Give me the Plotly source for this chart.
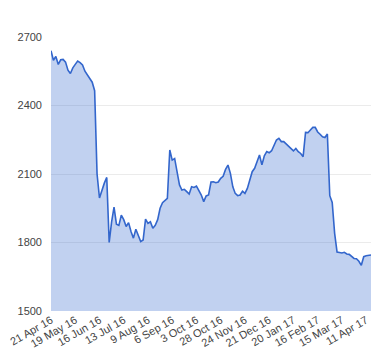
import plotly.graph_objects as go

# trading-day index (every 2nd trading day) and closing values
day_index = list(range(0, 266, 2))
price = [
    2640, 2598, 2615, 2580, 2600, 2602, 2590, 2555, 2540, 2565,
    2580, 2595, 2588, 2578, 2550, 2535, 2515, 2502, 2465, 2100,
    1995, 2030, 2060, 2085, 1800, 1890, 1955, 1880, 1875, 1920,
    1900, 1870, 1887, 1848, 1819, 1858, 1833, 1804, 1811, 1902,
    1884, 1891, 1862, 1875, 1900, 1950, 1974, 1982, 1993, 2205,
    2161, 2168, 2103, 2052, 2030, 2033, 2023, 2012, 2044, 2041,
    2047, 2030, 2008, 1979, 2004, 2008, 2065, 2066, 2062, 2065,
    2081, 2090, 2120, 2139, 2103, 2044, 2015, 2005, 2008, 2025,
    2015, 2037, 2074, 2110, 2125, 2154, 2183, 2140, 2180, 2198,
    2193, 2202, 2230, 2249, 2256, 2242, 2242, 2231, 2220, 2212,
    2201, 2212, 2198, 2190, 2176, 2282, 2281, 2293, 2304, 2304,
    2284, 2274, 2263, 2260, 2275, 2005, 1975, 1840, 1758, 1756,
    1754, 1757, 1750, 1748, 1740, 1730, 1729, 1718, 1700, 1738,
    1742, 1744, 1745,
]

tick_positions = [0, 20, 40, 60, 80, 100, 120, 140, 160, 180, 200, 220, 240, 260]
tick_labels = ["21 Apr 16", "19 May 16", "16 Jun 16", "13 Jul 16", "9 Aug 16",
               "6 Sep 16", "3 Oct 16", "28 Oct 16", "24 Nov 16", "21 Dec 16",
               "20 Jan 17", "16 Feb 17", "15 Mar 17", "11 Apr 17"]
y_ticks = [1500, 1800, 2100, 2400, 2700]

fig = go.Figure(go.Scatter(
    x=day_index, y=price, mode="lines",
    line=dict(color="#3366cc", width=1.6),
    fill="tozeroy", fillcolor="rgba(51,102,204,0.3)",
))

fig.update_layout(
    width=372, height=352,
    margin=dict(l=43, r=9, t=29, b=49),
    paper_bgcolor="white", plot_bgcolor="white",
    showlegend=False,
    font=dict(family="Liberation Sans, Arial, sans-serif", size=11, color="#444"),
)
fig.update_xaxes(
    range=[0, 264], tickmode="array", tickvals=tick_positions, ticktext=tick_labels,
    tickangle=-30, showgrid=False, zeroline=False, showline=False, ticks="",
    tickfont=dict(size=11), automargin=False, ticklabeloverflow="allow",
)
fig.update_yaxes(
    range=[1500, 2700], tickmode="array", tickvals=y_ticks,
    showgrid=True, gridcolor="#ebebeb", gridwidth=1, zeroline=False,
    showline=False, ticks="", ticklabelstandoff=8, automargin=False,
)

fig.write_html("out.html")
